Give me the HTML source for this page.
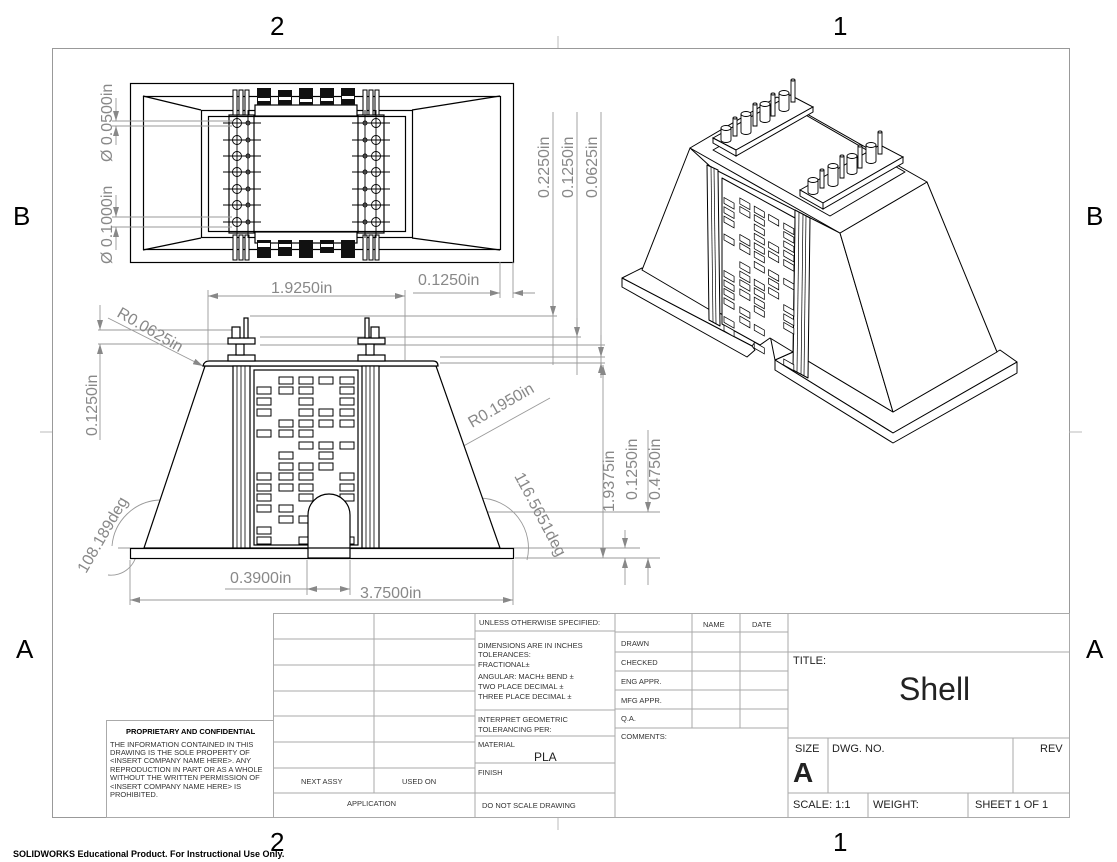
<!DOCTYPE html>
<html><head><meta charset="utf-8"><style>
html,body{margin:0;padding:0;background:#fff;}
svg{display:block;font-family:"Liberation Sans",sans-serif;}
</style></head><body>
<svg width="1117" height="862" viewBox="0 0 1117 862" xmlns="http://www.w3.org/2000/svg">
<defs>
<marker id="ar" viewBox="0 0 10 6" refX="10" refY="3" markerWidth="10" markerHeight="6" orient="auto-start-reverse" markerUnits="userSpaceOnUse"><path d="M0,0L10,3L0,6z" fill="#888"/></marker>
<g id="blocks" fill="#fff" stroke="#000" stroke-width="1">
<rect x="22" y="7" width="14" height="7"/><rect x="42" y="7" width="14" height="7"/><rect x="62" y="7" width="14" height="7"/><rect x="83" y="7" width="14" height="7"/>
<rect x="0" y="17" width="14" height="7"/><rect x="22" y="17" width="14" height="7"/><rect x="42" y="17" width="14" height="7"/><rect x="83" y="17" width="14" height="7"/>
<rect x="0" y="28" width="14" height="7"/><rect x="42" y="28" width="14" height="7"/><rect x="83" y="28" width="14" height="7"/>
<rect x="0" y="39" width="14" height="7"/><rect x="42" y="39" width="14" height="7"/><rect x="62" y="39" width="14" height="7"/><rect x="83" y="39" width="14" height="7"/>
<rect x="22" y="50" width="14" height="7"/><rect x="42" y="50" width="14" height="7"/><rect x="62" y="50" width="14" height="7"/><rect x="83" y="50" width="14" height="7"/>
<rect x="0" y="60" width="14" height="7"/><rect x="22" y="60" width="14" height="7"/><rect x="42" y="60" width="14" height="7"/>
<rect x="42" y="72" width="14" height="7"/><rect x="62" y="72" width="14" height="7"/><rect x="83" y="72" width="14" height="7"/>
<rect x="22" y="82" width="14" height="7"/><rect x="62" y="82" width="14" height="7"/>
<rect x="22" y="93" width="14" height="7"/><rect x="42" y="93" width="14" height="7"/><rect x="62" y="93" width="14" height="7"/>
<rect x="0" y="103" width="14" height="7"/><rect x="22" y="103" width="14" height="7"/><rect x="42" y="103" width="14" height="7"/><rect x="83" y="103" width="14" height="7"/>
<rect x="0" y="114" width="14" height="7"/><rect x="22" y="114" width="14" height="7"/><rect x="42" y="114" width="14" height="7"/><rect x="83" y="114" width="14" height="7"/>
<rect x="0" y="124" width="14" height="7"/><rect x="42" y="124" width="14" height="7"/><rect x="83" y="124" width="14" height="7"/>
<rect x="0" y="135" width="14" height="7"/><rect x="22" y="135" width="14" height="7"/>
<rect x="22" y="146" width="14" height="7"/><rect x="42" y="146" width="14" height="7"/>
<rect x="0" y="157" width="14" height="7"/>
<rect x="0" y="167" width="14" height="7"/><rect x="42" y="167" width="14" height="7"/><rect x="83" y="167" width="14" height="7"/>
</g>
</defs>

<!-- frame -->
<rect x="52.5" y="48.5" width="1017" height="769" fill="none" stroke="#999" stroke-width="1"/>
<g stroke="#bbb" stroke-width="1"><line x1="558" y1="36" x2="558" y2="48"/><line x1="558" y1="817" x2="558" y2="830"/><line x1="40" y1="432" x2="52" y2="432"/><line x1="1069" y1="432" x2="1082" y2="432"/></g>
<g font-size="26" fill="#000">
<text x="270" y="35">2</text><text x="833" y="35">1</text>
<text x="270" y="851">2</text><text x="833" y="851">1</text>
<text x="13" y="225">B</text><text x="1086" y="225">B</text>
<text x="16" y="658">A</text><text x="1086" y="658">A</text>
</g>

<!-- TOP VIEW -->
<g stroke="#000" stroke-width="1.2" fill="none">
<rect x="130.5" y="83.5" width="383" height="179"/>
<rect x="143.5" y="96.5" width="357" height="153"/>
<rect x="201.5" y="110.5" width="211" height="127"/>
<rect x="208.5" y="116.5" width="197" height="115"/>
<line x1="143" y1="96" x2="201" y2="110"/><line x1="143" y1="250" x2="201" y2="238"/>
<line x1="500" y1="96" x2="412" y2="110"/><line x1="500" y1="250" x2="412" y2="238"/>
<rect x="229" y="115" width="25" height="118"/><rect x="358" y="115" width="26" height="118"/>
<rect x="255" y="105" width="102" height="11" fill="#fff"/><rect x="255" y="232" width="102" height="11" fill="#fff"/>
</g>
<g fill="#111">
<rect x="257" y="88" width="14" height="17"/><rect x="278" y="90" width="14" height="15"/><rect x="299" y="88" width="14" height="17"/><rect x="320" y="88" width="14" height="17"/><rect x="341" y="88" width="14" height="17"/>
<rect x="257" y="240" width="14" height="18"/><rect x="278" y="240" width="14" height="16"/><rect x="299" y="240" width="14" height="18"/><rect x="320" y="240" width="14" height="13"/><rect x="341" y="240" width="14" height="18"/>
</g>
<g fill="#fff"><rect x="258" y="98" width="12" height="3"/><rect x="279" y="97" width="12" height="3"/><rect x="300" y="99" width="12" height="3"/><rect x="321" y="98" width="12" height="3"/><rect x="342" y="96" width="12" height="3"/>
<rect x="258" y="243" width="12" height="4"/><rect x="279" y="244" width="12" height="3"/><rect x="321" y="244" width="12" height="3"/></g>
<g stroke="#000" stroke-width="1" fill="#fff">
<rect x="233" y="90" width="4" height="25"/><rect x="239" y="90" width="4" height="25"/><rect x="245" y="90" width="4" height="25"/>
<rect x="363" y="90" width="4" height="25"/><rect x="369" y="90" width="4" height="25"/><rect x="375" y="90" width="4" height="25"/>
<rect x="233" y="235" width="4" height="25"/><rect x="239" y="235" width="4" height="25"/><rect x="245" y="235" width="4" height="25"/>
<rect x="363" y="235" width="4" height="25"/><rect x="369" y="235" width="4" height="25"/><rect x="375" y="235" width="4" height="25"/>
</g>
<g stroke="#000" stroke-width="0.9" fill="none">
<line x1="237" y1="110" x2="237" y2="238"/><line x1="248" y1="110" x2="248" y2="238"/><line x1="365" y1="110" x2="365" y2="238"/><line x1="376" y1="110" x2="376" y2="238"/>
<g id="hr">
<circle cx="237" cy="123" r="4.5"/><circle cx="248" cy="123" r="2"/><circle cx="365" cy="123" r="2"/><circle cx="376" cy="123" r="4.5"/>
<line x1="223" y1="123" x2="261" y2="123"/><line x1="352" y1="123" x2="390" y2="123"/>
</g>
<use href="#hr" y="17"/><use href="#hr" y="33"/><use href="#hr" y="49"/><use href="#hr" y="66"/><use href="#hr" y="82"/><use href="#hr" y="99"/>
</g>

<!-- dimension style -->
<g stroke="#999" stroke-width="0.9" fill="none">
<line x1="112" y1="121" x2="232" y2="121"/><line x1="112" y1="126" x2="232" y2="126"/>
<line x1="116" y1="98" x2="116" y2="121" marker-end="url(#ar)"/><line x1="116" y1="145" x2="116" y2="126" marker-end="url(#ar)"/>
<line x1="112" y1="217" x2="232" y2="217"/><line x1="112" y1="227" x2="232" y2="227"/>
<line x1="116" y1="195" x2="116" y2="217" marker-end="url(#ar)"/><line x1="116" y1="250" x2="116" y2="227" marker-end="url(#ar)"/>
<line x1="208" y1="290" x2="208" y2="360"/><line x1="405" y1="290" x2="405" y2="360"/>
<line x1="208" y1="296" x2="405" y2="296" marker-start="url(#ar)" marker-end="url(#ar)"/>
<line x1="500" y1="262" x2="500" y2="298"/><line x1="513" y1="262" x2="513" y2="298"/>
<line x1="413" y1="293" x2="500" y2="293" marker-end="url(#ar)"/><line x1="535" y1="293" x2="513" y2="293" marker-end="url(#ar)"/>
<line x1="553" y1="112" x2="553" y2="365"/><line x1="577" y1="112" x2="577" y2="375"/><line x1="601" y1="112" x2="601" y2="375"/>
<line x1="250" y1="316" x2="557" y2="316"/><line x1="260" y1="337" x2="581" y2="337"/><line x1="260" y1="345" x2="605" y2="345"/><line x1="440" y1="357" x2="605" y2="357"/><line x1="440" y1="363" x2="605" y2="363"/>
<line x1="553" y1="290" x2="553" y2="316" marker-end="url(#ar)"/><line x1="577" y1="318" x2="577" y2="337" marker-end="url(#ar)"/><line x1="601" y1="335" x2="601" y2="357" marker-end="url(#ar)"/><line x1="601" y1="378" x2="601" y2="363" marker-end="url(#ar)"/>
<line x1="98" y1="330" x2="232" y2="330"/><line x1="98" y1="344" x2="232" y2="344"/>
<line x1="100" y1="305" x2="100" y2="330" marker-end="url(#ar)"/><line x1="100" y1="440" x2="100" y2="344" marker-end="url(#ar)"/>
<line x1="108" y1="318" x2="203" y2="366" marker-end="url(#ar)"/>
<line x1="550" y1="398" x2="330" y2="520"/><line x1="390" y1="488" x2="344" y2="512" marker-end="url(#ar)"/>
<line x1="330" y1="512" x2="660" y2="512"/><line x1="515" y1="558" x2="660" y2="558"/><line x1="500" y1="548" x2="640" y2="548"/>
<line x1="603" y1="365" x2="603" y2="558"/>
<line x1="603" y1="378" x2="603" y2="365" marker-end="url(#ar)"/><line x1="603" y1="540" x2="603" y2="558" marker-end="url(#ar)"/>
<line x1="625" y1="530" x2="625" y2="548" marker-end="url(#ar)"/><line x1="625" y1="585" x2="625" y2="558" marker-end="url(#ar)"/>
<line x1="648" y1="430" x2="648" y2="512" marker-end="url(#ar)"/><line x1="648" y1="585" x2="648" y2="558" marker-end="url(#ar)"/>
<line x1="130" y1="560" x2="130" y2="605"/><line x1="513" y1="560" x2="513" y2="605"/>
<line x1="130" y1="600" x2="513" y2="600" marker-start="url(#ar)" marker-end="url(#ar)"/>
<line x1="307" y1="560" x2="307" y2="595"/><line x1="350" y1="560" x2="350" y2="595"/>
<line x1="225" y1="589" x2="307" y2="589"/><line x1="307" y1="589" x2="350" y2="589" marker-start="url(#ar)" marker-end="url(#ar)"/>
<path d="M112,546 A 50 50 0 0 1 160 500 M 137 548 A 26 26 0 0 1 108 575" />
<line x1="118" y1="548" x2="560" y2="548"/>
<path d="M480,498 A 50 50 0 0 1 527 560"/>
<line x1="153" y1="522" x2="163" y2="525" marker-end="url(#ar)"/><line x1="484" y1="530" x2="490" y2="518" marker-end="url(#ar)"/>
</g>
<g fill="#888" font-size="16">
<text transform="translate(112,162) rotate(-90)">Ø 0.0500in</text>
<text transform="translate(112,264) rotate(-90)">Ø 0.1000in</text>
<text x="271" y="293">1.9250in</text>
<text x="418" y="285">0.1250in</text>
<text transform="translate(549,198) rotate(-90)">0.2250in</text>
<text transform="translate(573,198) rotate(-90)">0.1250in</text>
<text transform="translate(597,198) rotate(-90)">0.0625in</text>
<text transform="translate(116,316) rotate(30)">R0.0625in</text>
<text transform="translate(97,436) rotate(-90)">0.1250in</text>
<text transform="translate(472,428) rotate(-30)">R0.1950in</text>
<text transform="translate(614,512) rotate(-90)">1.9375in</text>
<text transform="translate(637,500) rotate(-90)">0.1250in</text>
<text transform="translate(660,500) rotate(-90)">0.4750in</text>
<text transform="translate(86,574) rotate(-60)">108.189deg</text>
<text transform="translate(514,476) rotate(62)">116.5651deg</text>
<text x="230" y="583">0.3900in</text>
<text x="360" y="598">3.7500in</text>
</g>

<!-- FRONT VIEW -->
<g stroke="#000" stroke-width="1.2" fill="#fff">
<rect x="130.5" y="548.5" width="383" height="10"/>
<path d="M144,548 L205,366 L436,366 L500,548 Z"/>
<path d="M203,366 Q204,361 209,361 L433,361 Q438,361 438,366 Z"/>
<rect x="233" y="366" width="17" height="182"/><rect x="362" y="366" width="17" height="182"/>
<rect x="254" y="370" width="104" height="175"/>
</g>
<g stroke="#000" stroke-width="0.8"><line x1="237" y1="366" x2="237" y2="548"/><line x1="241" y1="366" x2="241" y2="548"/><line x1="245" y1="366" x2="245" y2="548"/><line x1="366" y1="366" x2="366" y2="548"/><line x1="370" y1="366" x2="370" y2="548"/><line x1="374" y1="366" x2="374" y2="548"/></g>
<use href="#blocks" x="257" y="370"/>
<g stroke="#000" stroke-width="1.2" fill="#fff">
<path d="M308,558 L308,515 A 21 21 0 0 1 350 515 L350,558 Z"/>
<line x1="308" y1="548" x2="350" y2="548"/>
<rect x="228" y="355" width="27" height="6"/><rect x="236" y="344" width="8" height="11"/><rect x="228" y="338" width="27" height="6"/><rect x="232" y="327" width="8" height="11"/><rect x="244" y="318" width="4" height="20"/>
<rect x="358" y="355" width="27" height="6"/><rect x="366" y="344" width="8" height="11"/><rect x="358" y="338" width="27" height="6"/><rect x="371" y="327" width="8" height="11"/><rect x="365" y="318" width="4" height="20"/>
</g>

<!-- ISOMETRIC -->
<g stroke="#000" stroke-width="1" fill="#fff" stroke-linejoin="round">
<path d="M622,278 L642,268 L760,336 L752,346 Z"/>
<path d="M622,278 L622,287 L747,357 L755,350 L752,346 Z"/>
<path d="M775,360 L793,352 L893,412 L1000,350 L1017,362 L893,433 Z"/>
<path d="M775,360 L775,370 L893,443 L1017,373 L1017,362 L893,433 Z"/>
<path d="M690,148 L642,270 L710,310 L712,168 Z"/>
<path d="M712,168 L840,233 L893,412 L793,352 L775,360 L770,335 L712,310 Z"/>
<path d="M840,233 L927,182 L997,352 L893,412 Z"/>
<path d="M690,148 L777,97 L927,182 L840,233 Z"/>
<path d="M713,150 L790,106 L905,172 L830,216 Z"/>
<path d="M707,165 L718,170 L720,326 L709,320 Z"/>
<path d="M795,210 L810,218 L808,378 L793,370 Z"/>
<path d="M722,178 L795,218 L793,352 L770,338 L760,345 L722,324 Z"/>
</g>
<g stroke="#000" stroke-width="0.7"><line x1="711" y1="166" x2="713" y2="322"/><line x1="714" y1="168" x2="716" y2="324"/><line x1="799" y1="212" x2="797" y2="372"/><line x1="803" y1="214" x2="801" y2="374"/><line x1="806" y1="216" x2="804" y2="376"/></g>
<use href="#blocks" transform="matrix(0.72,0.41,0,0.85,724,183)"/>
<g stroke="#000" stroke-width="1" fill="#fff">
<path d="M713,138 L790,95 L813,107 L736,150 Z"/><path d="M713,138 L713,143 L736,156 L736,150 Z"/><path d="M736,150 L736,156 L813,112 L813,107 Z"/>
<path d="M800,190 L880,145 L903,157 L823,203 Z"/><path d="M800,190 L800,196 L823,209 L823,203 Z"/><path d="M823,203 L823,209 L903,163 L903,157 Z"/>
</g>
<g stroke="#000" stroke-width="0.9" fill="#fff">
<g id="pinrow">
<path d="M721,128 v12 a5,2.5 0 0 0 10,0 v-12"/><ellipse cx="726" cy="128" rx="5" ry="2.5"/>
<path d="M733,118 v18 h4 v-18"/><ellipse cx="735" cy="118" rx="2" ry="1"/>
<path d="M741,114 v18 a5,2.5 0 0 0 10,0 v-18"/><ellipse cx="746" cy="114" rx="5" ry="2.5"/>
<path d="M753,104 v22 h4 v-22"/><ellipse cx="755" cy="104" rx="2" ry="1"/>
<path d="M760,104 v16 a5,2.5 0 0 0 10,0 v-16"/><ellipse cx="765" cy="104" rx="5" ry="2.5"/>
<path d="M771,94 v22 h4 v-22"/><ellipse cx="773" cy="94" rx="2" ry="1"/>
<path d="M779,93 v16 a5,2.5 0 0 0 10,0 v-16"/><ellipse cx="784" cy="93" rx="5" ry="2.5"/>
<path d="M791,80 v22 h4 v-22"/><ellipse cx="793" cy="80" rx="2" ry="1"/>
</g>
<use href="#pinrow" transform="translate(87,52)"/>
</g>

<!-- TITLE BLOCK -->
<g stroke="#aaa" stroke-width="1" fill="none">
<rect x="273.5" y="613.5" width="796" height="204"/>
<line x1="374" y1="613" x2="374" y2="793"/><line x1="475" y1="613" x2="475" y2="817"/><line x1="615" y1="613" x2="615" y2="817"/><line x1="788" y1="613" x2="788" y2="817"/>
<line x1="692" y1="613" x2="692" y2="728"/><line x1="740" y1="613" x2="740" y2="728"/>
<line x1="273" y1="639" x2="475" y2="639"/><line x1="273" y1="665" x2="475" y2="665"/><line x1="273" y1="691" x2="475" y2="691"/><line x1="273" y1="716" x2="475" y2="716"/><line x1="273" y1="742" x2="475" y2="742"/><line x1="273" y1="768" x2="475" y2="768"/><line x1="273" y1="793" x2="615" y2="793"/>
<line x1="475" y1="631" x2="615" y2="631"/><line x1="475" y1="710" x2="615" y2="710"/><line x1="475" y1="736" x2="615" y2="736"/><line x1="475" y1="763" x2="615" y2="763"/>
<line x1="615" y1="632" x2="788" y2="632"/><line x1="615" y1="652" x2="788" y2="652"/><line x1="615" y1="671" x2="788" y2="671"/><line x1="615" y1="690" x2="788" y2="690"/><line x1="615" y1="709" x2="788" y2="709"/><line x1="615" y1="728" x2="788" y2="728"/>
<line x1="788" y1="652" x2="1069" y2="652"/><line x1="788" y1="738" x2="1069" y2="738"/><line x1="788" y1="793" x2="1069" y2="793"/>
<line x1="828" y1="738" x2="828" y2="793"/><line x1="1013" y1="738" x2="1013" y2="793"/>
<line x1="868" y1="793" x2="868" y2="817"/><line x1="968" y1="793" x2="968" y2="817"/>
<rect x="106.5" y="720.5" width="167" height="97"/>
</g>
<g fill="#333" font-size="7.5">
<text x="479" y="625">UNLESS OTHERWISE SPECIFIED:</text>
<text x="478" y="648">DIMENSIONS ARE IN INCHES</text>
<text x="478" y="657">TOLERANCES:</text>
<text x="478" y="667">FRACTIONAL±</text>
<text x="478" y="679">ANGULAR: MACH±    BEND ±</text>
<text x="478" y="689">TWO PLACE DECIMAL    ±</text>
<text x="478" y="699">THREE PLACE DECIMAL  ±</text>
<text x="478" y="722">INTERPRET GEOMETRIC</text>
<text x="478" y="732">TOLERANCING PER:</text>
<text x="478" y="747">MATERIAL</text>
<text x="478" y="775">FINISH</text>
<text x="482" y="808">DO NOT SCALE DRAWING</text>
<text x="301" y="784">NEXT ASSY</text><text x="402" y="784">USED ON</text>
<text x="347" y="806">APPLICATION</text>
<text x="703" y="627">NAME</text><text x="752" y="627">DATE</text>
<text x="621" y="646">DRAWN</text><text x="621" y="665">CHECKED</text><text x="621" y="684">ENG APPR.</text><text x="621" y="703">MFG APPR.</text><text x="621" y="721">Q.A.</text><text x="621" y="739">COMMENTS:</text>
<text x="110" y="747">THE INFORMATION CONTAINED IN THIS</text>
<text x="110" y="755">DRAWING IS THE SOLE PROPERTY OF</text>
<text x="110" y="763">&lt;INSERT COMPANY NAME HERE&gt;.  ANY</text>
<text x="110" y="772">REPRODUCTION IN PART OR AS A WHOLE</text>
<text x="110" y="780">WITHOUT THE WRITTEN PERMISSION OF</text>
<text x="110" y="789">&lt;INSERT COMPANY NAME HERE&gt; IS</text>
<text x="110" y="797">PROHIBITED.</text>
<text x="126" y="734" font-weight="bold" fill="#000">PROPRIETARY AND CONFIDENTIAL</text>
</g>
<g fill="#222">
<text x="534" y="761" font-size="12">PLA</text>
<text x="793" y="664" font-size="11">TITLE:</text>
<text x="899" y="700" font-size="32">Shell</text>
<text x="795" y="752" font-size="11">SIZE</text>
<text x="793" y="782" font-size="28" font-weight="bold">A</text>
<text x="832" y="752" font-size="11">DWG.  NO.</text>
<text x="1040" y="752" font-size="11">REV</text>
<text x="793" y="808" font-size="11">SCALE: 1:1</text>
<text x="873" y="808" font-size="11">WEIGHT:</text>
<text x="975" y="808" font-size="11">SHEET 1 OF 1</text>
</g>
<text x="13" y="857" font-size="9" font-weight="bold" fill="#000">SOLIDWORKS Educational Product. For Instructional Use Only.</text>
</svg>
</body></html>
